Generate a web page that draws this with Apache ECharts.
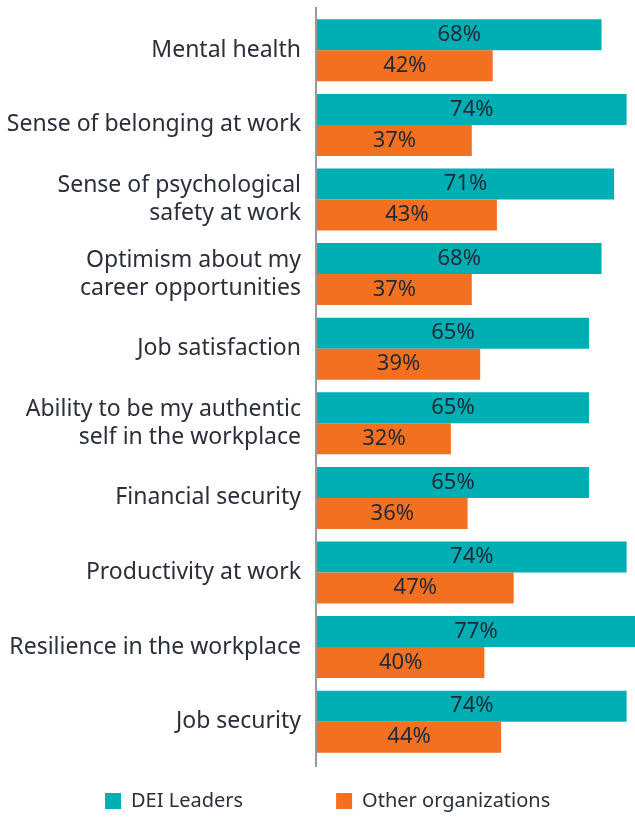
<!DOCTYPE html>
<html>
<head>
<meta charset="utf-8">
<script src="https://cdn.jsdelivr.net/npm/echarts@6/dist/echarts.min.js"></script>
<style>
  html, body { margin: 0; padding: 0; background: #fff; }
  #chart { width: 635px; height: 818px; }
</style>
</head>
<body>
<div id="chart"></div>
<script>
// Survey outcomes, top to bottom
const categories = [
  'Mental health',
  'Sense of belonging at work',
  'Sense of psychological\nsafety at work',
  'Optimism about my\ncareer opportunities',
  'Job satisfaction',
  'Ability to be my authentic\nself in the workplace',
  'Financial security',
  'Productivity at work',
  'Resilience in the workplace',
  'Job security'
];
const deiLeaders = [68, 74, 71, 68, 65, 65, 65, 74, 77, 74];
const otherOrgs = [42, 37, 43, 37, 39, 32, 36, 47, 40, 44];
const seriesNames = ['DEI Leaders', 'Other organizations'];

const TEAL = '#00afb3';
const ORANGE = '#f37021';
const TEXT = '#2b2f3a';
const FONT = '"Noto Sans", sans-serif';

const chart = echarts.init(document.getElementById('chart'));

const valueLabel = {
  show: true,
  position: 'inside',
  formatter: p => p.value + '%',
  color: '#1f2a36',
  fontSize: 22,
  fontFamily: FONT
};

chart.setOption({
  animation: false,
  textStyle: { fontFamily: FONT },
  legend: {
    data: seriesNames,
    top: 791,
    left: 105,
    padding: 0,
    itemWidth: 16,
    itemHeight: 16,
    itemGap: 93,
    icon: 'rect',
    textStyle: { fontSize: 20, color: TEXT, fontFamily: FONT, padding: [0, 0, 0, 5] }
  },
  grid: { left: 317, right: 0, top: 13, height: 746 },
  xAxis: {
    type: 'value',
    min: 0,
    max: 76,
    show: false
  },
  yAxis: {
    type: 'category',
    data: categories,
    inverse: true,
    axisLine: { show: false },
    axisTick: { show: false },
    axisLabel: {
      margin: 16,
      fontSize: 23,
      lineHeight: 28,
      color: TEXT,
      fontFamily: FONT,
      align: 'right'
    }
  },
  graphic: [{
    type: 'line',
    shape: { x1: 316, y1: 7, x2: 316, y2: 767 },
    style: { stroke: '#555', lineWidth: 1.2 }
  }],
  series: [
    {
      name: seriesNames[0],
      type: 'bar',
      data: deiLeaders,
      barWidth: 31,
      barGap: '0%',
      itemStyle: { color: TEAL },
      label: valueLabel
    },
    {
      name: seriesNames[1],
      type: 'bar',
      data: otherOrgs,
      barWidth: 31,
      itemStyle: { color: ORANGE },
      label: valueLabel
    }
  ]
});
</script>
</body>
</html>
